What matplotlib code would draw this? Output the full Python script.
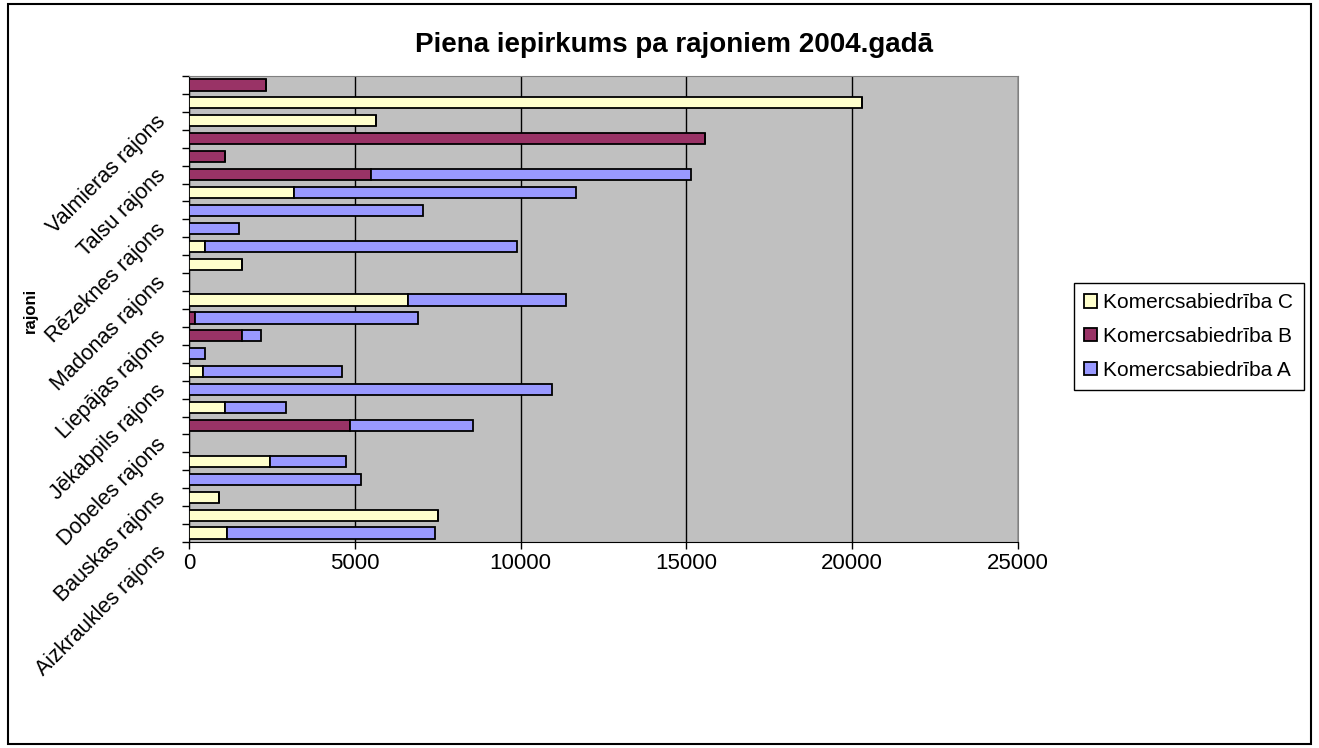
import matplotlib
matplotlib.use("Agg")
import matplotlib.pyplot as plt
import matplotlib.transforms as mtransforms
from matplotlib.patches import Rectangle
import numpy as np

plt.rcParams['font.family'] = ['Liberation Sans', 'DejaVu Sans']

# rajoni no apakšas uz augšu
rajoni = ["Aizkraukles rajons", "Alūksnes rajons", "Balvu rajons", "Bauskas rajons",
          "Cēsu rajons", "Daugavpils rajons", "Dobeles rajons", "Gulbenes rajons",
          "Jelgavas rajons", "Jēkabpils rajons", "Krāslavas rajons", "Kuldīgas rajons",
          "Liepājas rajons", "Limbažu rajons", "Ludzas rajons", "Madonas rajons",
          "Ogres rajons", "Preiļu rajons", "Rēzeknes rajons", "Rīgas rajons",
          "Saldus rajons", "Talsu rajons", "Tukuma rajons", "Valkas rajons",
          "Valmieras rajons", "Ventspils rajons"]

komerc_c = [1150, 7520, 900, 0, 2450, 0, 0, 1100, 0, 420, 0, 0, 0,
            6600, 0, 1610, 470, 0, 0, 3180, 0, 0, 0, 5650, 20300, 0]
komerc_b = [0, 0, 0, 0, 0, 0, 4870, 0, 0, 0, 0, 1610, 170,
            0, 0, 0, 0, 0, 0, 0, 5490, 1100, 15560, 0, 0, 2320]
komerc_a = [6280, 0, 0, 5180, 2270, 0, 3680, 1830, 10950, 4200, 480, 550, 6750,
            4760, 0, 0, 9410, 1500, 7070, 8480, 9640, 0, 0, 0, 0, 0]

nosaukumi = ["Komercsabiedrība C", "Komercsabiedrība B", "Komercsabiedrība A"]
krasas = ["#FFFFCC", "#993366", "#9999FF"]

fig = plt.figure(figsize=(13.19, 7.48), dpi=100)
ax = fig.add_axes([189 / 1319, 1 - 542 / 748, 829 / 1319, 466 / 748])
ax.set_facecolor("#C0C0C0")

y = np.arange(len(rajoni))
kreisa = np.zeros(len(rajoni))
for vertibas, nos, kr in zip([komerc_c, komerc_b, komerc_a], nosaukumi, krasas):
    v = np.array(vertibas, dtype=float)
    ax.barh(y, v, left=kreisa, height=0.62, color=kr, edgecolor="black",
            linewidth=1.3, label=nos, zorder=3)
    kreisa += v

ax.set_xlim(0, 25000)
ax.set_ylim(-0.5, len(rajoni) - 0.5)
ax.set_xticks(np.arange(0, 25001, 5000))
ax.tick_params(axis="x", labelsize=16, length=5, width=1, pad=3)
ax.xaxis.grid(True, color="black", linewidth=1, zorder=1)
ax.set_axisbelow(True)

# katrs trešais rajons ar nosaukumu, iedaļas starp kategorijām
ax.set_yticks(y[::3])
ax.set_yticklabels([rajoni[i] for i in y[::3]])
ax.set_yticks(np.arange(-0.5, len(rajoni), 1.0), minor=True)
ax.tick_params(axis="y", which="major", length=0, pad=19, labelsize=15.5)
ax.tick_params(axis="y", which="minor", length=5, width=1)
nobide = mtransforms.ScaledTranslation(0, -16 / 100, fig.dpi_scale_trans)
for lbl in ax.get_yticklabels():
    lbl.set_rotation(45)
    lbl.set_rotation_mode("anchor")
    lbl.set_ha("right")
    lbl.set_va("center")
    lbl.set_transform(lbl.get_transform() + nobide)

for s in ["top", "right"]:
    ax.spines[s].set_color("#808080")
for s in ["left", "bottom"]:
    ax.spines[s].set_color("black")

fig.text(30 / 1319, 1 - 310 / 748, "rajoni", rotation=90, fontsize=12,
         fontweight="bold", ha="center", va="center")
fig.text(674 / 1319, 1 - 45 / 748, "Piena iepirkums pa rajoniem 2004.gadā",
         fontsize=20, fontweight="bold", ha="center", va="center")

ax.legend(loc="upper left", bbox_to_anchor=(1074 / 1319, 1 - 283 / 748),
          bbox_transform=fig.transFigure, fontsize=15, frameon=True,
          fancybox=False, edgecolor="black", framealpha=1,
          handlelength=0.6, handleheight=0.6, handletextpad=0.3,
          borderpad=0.5, labelspacing=0.7, borderaxespad=0)

fig.patches.append(Rectangle((8 / 1319, 4 / 748), 1303 / 1319, 740 / 748,
                             transform=fig.transFigure, fill=False,
                             edgecolor="black", linewidth=1.5))

fig.savefig("out.png", dpi=100)
